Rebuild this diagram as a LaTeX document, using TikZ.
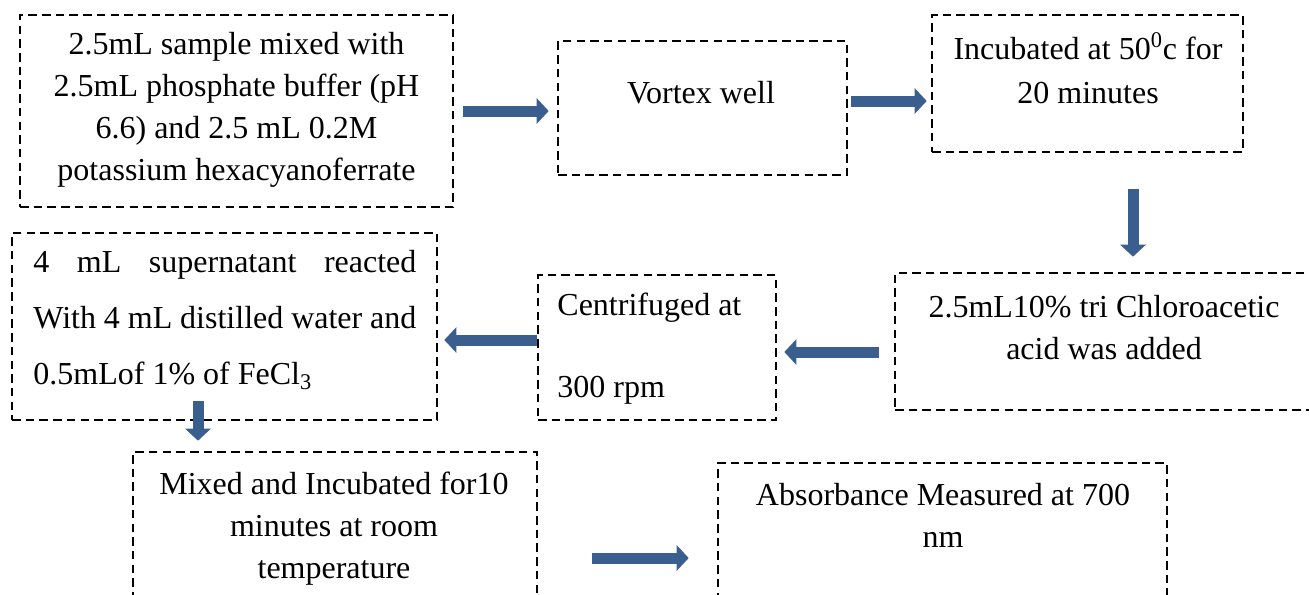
\documentclass[tikz,border=0pt]{standalone}
\usepackage{fontspec}
\setmainfont{Liberation Serif}
\usetikzlibrary{arrows.meta,fit}
\definecolor{arrowblue}{RGB}{58,95,143}
\begin{document}
\begin{tikzpicture}[x=0.5pt,y=-0.5pt,
	stepbox/.style={draw, dash pattern=on 4.25pt off 2.6pt, line width=1.3pt, inner sep=0pt},
	steptext/.style={font=\fontsize{16}{21}\selectfont, inner sep=0pt, align=center, anchor=north},
	flow/.style={draw=arrowblue, line width=5.5pt, -{Triangle[width=12.5pt,length=6pt,fill=arrowblue]}}]
	\useasboundingbox (0,0) rectangle (1309,594);
	\clip (0,0) rectangle (1309,594);
	
	\node[stepbox, fit={(20,15) (453,207)}] (b1) {};
	\node[stepbox, fit={(558,41) (847,175)}] (b2) {};
	\node[stepbox, fit={(932,15) (1243,152)}] (b3) {};
	\node[stepbox, fit={(895,273) (1312,410)}] (b4) {};
	\node[stepbox, fit={(538,275) (776,420)}] (b5) {};
	\node[stepbox, fit={(12,233) (437,420)}] (b6) {};
	\node[stepbox, fit={(133,452) (537,600)}] (b7) {};
	\node[stepbox, fit={(718,463) (1167,600)}] (b8) {};
	
	\node[steptext] (t1) at (236.5,32) {2.5mL sample mixed with\\2.5mL phosphate buffer (pH\\6.6) and 2.5 mL 0.2M\\potassium hexacyanoferrate};
	\node[steptext, anchor=center] (t2) at (701,93) {Vortex well};
	\node[steptext, font=\fontsize{16}{22}\selectfont] (t3) at (1088,32) {Incubated at 50\textsuperscript{0}c for\\20 minutes};
	\node[steptext] (t4) at (1104,295) {2.5mL10\% tri Chloroacetic\\acid was added};
	\node[steptext, align=left, anchor=north west] (t5) at (557,293) {Centrifuged at\\[20pt]300 rpm};
	\node[steptext, align=left, anchor=north west, font=\fontsize{16}{28}\selectfont] (t6) at (33,250)
		{\hbox to 191.5pt{4\hfill mL\hfill supernatant\hfill reacted}\\
		\hbox to 191.5pt{With\hfill 4\hfill mL\hfill distilled\hfill water\hfill and}\\
		0.5mLof 1\% of FeCl\textsubscript{3}};
	\node[steptext] (t7) at (334,472) {Mixed and Incubated for10\\minutes at room\\temperature};
	\node[steptext] (t8) at (943,483) {Absorbance Measured at 700\\nm};
	
	\draw[flow, shorten <=4.5pt, shorten >=4pt] (b1.east) -- (b1.east -| b2.west);
	\draw[flow, shorten <=1.5pt, shorten >=2pt] ([yshift=3.5pt]b2.east) -- ([yshift=3.5pt]b2.east -| b3.west);
	\draw[flow, shorten <=18pt, shorten >=7.5pt] ([xshift=22.75pt]b3.south) -- ([xshift=22.75pt]b3.south |- b4.north);
	\draw[flow, shorten <=7.5pt, shorten >=3.5pt] ([yshift=-5.25pt]b4.west) -- ([yshift=-5.25pt]b4.west -| b5.east);
	\draw[flow, shorten >=3pt] ([yshift=3.75pt]b5.west) -- ([yshift=3.75pt]b5.west -| b6.east);
	\draw[flow, shorten <=-10pt, shorten >=5pt] ([xshift=-13.25pt]b6.south) -- ([xshift=-13.25pt]b6.south |- b7.north);
	\draw[flow, shorten <=27pt, shorten >=14pt] ([yshift=-16pt]b7.east) -- ([yshift=-16pt]b7.east -| b8.west);
\end{tikzpicture}
\end{document}
